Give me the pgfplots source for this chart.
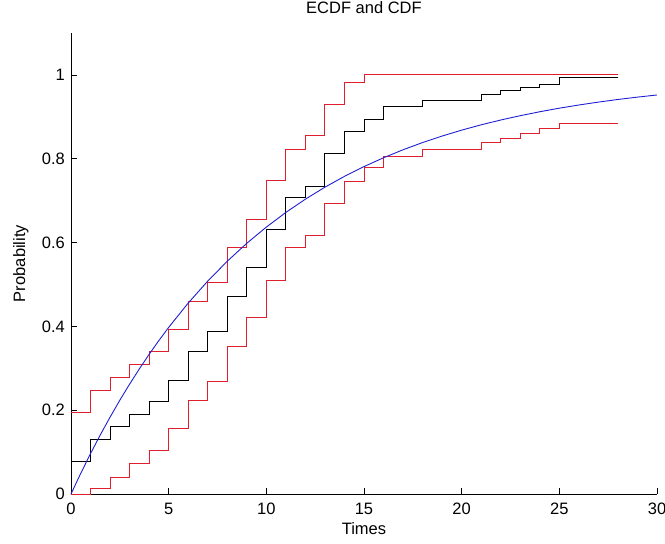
\documentclass[border=0pt]{standalone}
\usepackage{fontspec}
\setmainfont{Liberation Sans}
\usepackage{pgfplots}
\pgfplotsset{compat=1.18}
\definecolor{mred}{RGB}{225,30,45}
\definecolor{mblue}{RGB}{30,30,210}
\begin{document}
\begin{tikzpicture}
\useasboundingbox (-71bp,-50bp) rectangle (594bp,494bp);
\begin{axis}[
  at={(0,0)}, anchor=south west,
  scale only axis,
  width=586bp, height=461bp,
  xmin=0, xmax=30, ymin=0, ymax=1.1,
  axis x line*=bottom, axis y line*=left,
  axis line style={-, line width=0.8bp, black},
  tick align=inside,
  major tick length=6bp,
  tick style={line width=0.8bp, black},
  xtick={0,5,10,15,20,25,30},
  ytick={0,0.2,0.4,0.6,0.8,1},
  yticklabels={0,0.2,0.4,0.6,0.8,1},
  /pgf/number format/assume math mode=true,
  tick label style={font=\fontsize{16.5bp}{18bp}\selectfont},
  xticklabel style={inner sep=0pt, anchor=north, yshift=-9bp},
  yticklabel style={inner sep=0pt, anchor=east, xshift=-6bp},
  title={ECDF and CDF},
  title style={at={(axis description cs:0.5,1.029)}, anchor=base, inner sep=0pt, font=\fontsize{16.5bp}{18bp}\selectfont},
  xlabel={Times},
  xlabel style={at={(axis description cs:0.5,-0.0607)}, anchor=north, inner sep=0pt, font=\fontsize{16.5bp}{18bp}\selectfont},
  ylabel={Probability},
  ylabel style={at={(axis description cs:-0.099,0.5)}, anchor=north, rotate=0, inner sep=0pt, font=\fontsize{16.5bp}{18bp}\selectfont},
  clip=false,
]
\addplot[const plot, black, line width=1bp] coordinates {
(0,0.078)(1,0.131)(2,0.160)(3,0.190)(4,0.221)(5,0.271)(6,0.340)(7,0.388)(8,0.471)(9,0.540)(10,0.630)(11,0.708)(12,0.734)(13,0.813)(14,0.865)(15,0.893)(16,0.925)(18,0.940)(21,0.954)(22,0.963)(23,0.970)(24,0.978)(25,0.993)(28,0.993)
};
\addplot[const plot, mred, line width=1bp] coordinates {
(0,0.195)(1,0.247)(2,0.279)(3,0.309)(4,0.339)(5,0.392)(6,0.460)(7,0.504)(8,0.587)(9,0.654)(10,0.749)(11,0.823)(12,0.855)(13,0.929)(14,0.982)(15,1.0)(28,1.0)
};
\addplot[const plot, mred, line width=1bp] coordinates {
(0,0)(1,0.013)(2,0.040)(3,0.073)(4,0.103)(5,0.156)(6,0.224)(7,0.269)(8,0.352)(9,0.421)(10,0.510)(11,0.589)(12,0.617)(13,0.694)(14,0.745)(15,0.778)(16,0.806)(18,0.822)(21,0.839)(22,0.849)(23,0.859)(24,0.873)(25,0.883)(28,0.883)
};
\addplot[mblue, line width=0.9bp] coordinates {
(0,0)(0.5,0.0494)(1,0.0964)(1.5,0.1410)(2,0.1834)(2.5,0.2238)(3,0.2621)(3.5,0.2986)(4,0.3332)(4.5,0.3662)(5,0.3975)(6,0.4555)(7,0.5080)(8,0.5554)(9,0.5982)(10,0.6369)(11,0.6719)(12,0.7035)(13,0.7321)(14,0.7579)(15,0.7812)(16,0.8023)(17,0.8214)(18,0.8386)(19,0.8541)(20,0.8682)(21,0.8809)(22,0.8924)(23,0.9027)(24,0.9121)(25,0.9206)(26,0.9282)(27,0.9351)(28,0.9414)(29,0.9470)(30,0.9521)
};
\end{axis}
\end{tikzpicture}
\end{document}
